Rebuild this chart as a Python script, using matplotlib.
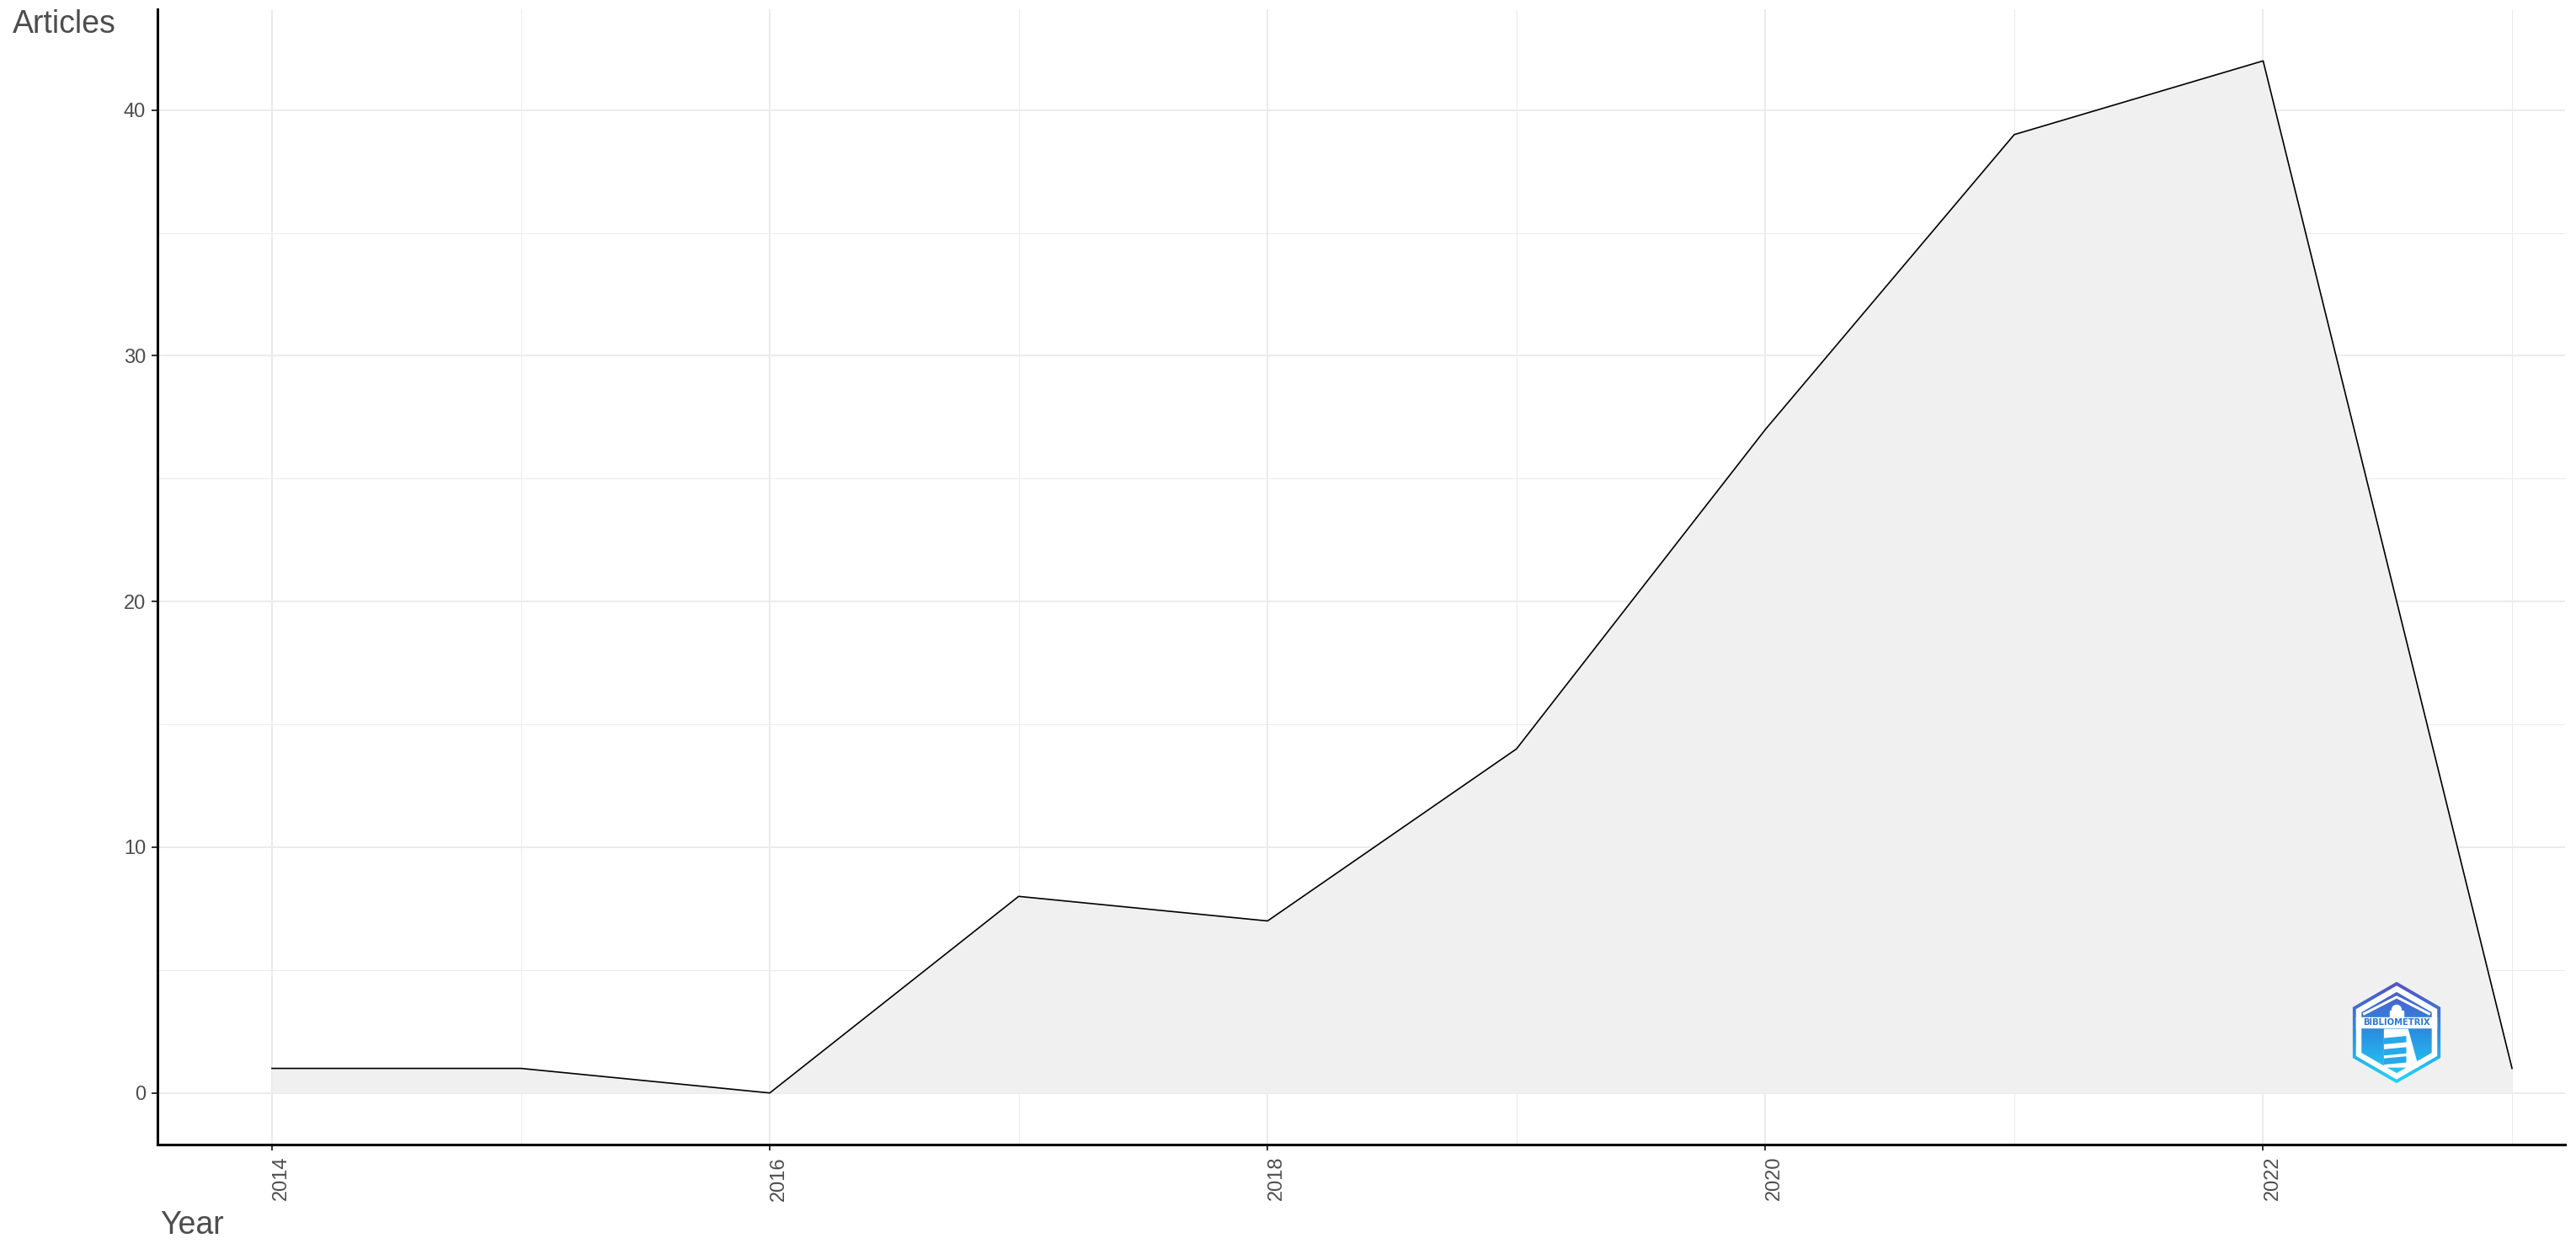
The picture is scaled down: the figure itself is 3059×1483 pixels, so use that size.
import numpy as np
import matplotlib
matplotlib.use("Agg")
import matplotlib.pyplot as plt
from matplotlib.patches import RegularPolygon, Rectangle, Circle, Polygon
from matplotlib.colors import LinearSegmentedColormap

plt.rcParams["font.family"] = ["Liberation Sans", "DejaVu Sans"]

# data
years = [2014, 2015, 2016, 2017, 2018, 2019, 2020, 2021, 2022, 2023]
articles = [1, 1, 0, 8, 7, 14, 27, 39, 42, 1]
x_major = [2014, 2016, 2018, 2020, 2022]
x_minor = [2015, 2017, 2019, 2021, 2023]
y_major = [0, 10, 20, 30, 40]
y_minor = [5, 15, 25, 35]

W, H = 3059, 1483
fig = plt.figure(figsize=(W / 100, H / 100), dpi=100)
fig.patch.set_facecolor("white")

# axes box in pixels: left 187, right 3046, top 11, bottom 1359
ax = fig.add_axes([187 / W, (H - 1359) / H, (3046 - 187) / W, (1359 - 11) / H])
ax.fill_between(years, articles, 0, color="#F0F0F0", lw=0, zorder=2)
ax.plot(years, articles, color="black", lw=1.2, zorder=3)

ax.set_xlim(2013.54, 2023.213)
ax.set_ylim(-2.1, 44.1)
ax.set_xticks(x_major)
ax.set_xticks(x_minor, minor=True)
ax.set_yticks(y_major)
ax.set_yticks(y_minor, minor=True)

ax.grid(which="major", color="#EBEBEB", lw=1.4, zorder=0)
ax.grid(which="minor", color="#EBEBEB", lw=0.7, zorder=0)
ax.set_axisbelow(True)

for s in ["top", "right"]:
    ax.spines[s].set_visible(False)
for s in ["left", "bottom"]:
    ax.spines[s].set_linewidth(2.2)
    ax.spines[s].set_color("black")

ax.tick_params(which="major", length=5, width=1.4, color="#333333",
               labelsize=17, labelcolor="#4D4D4D", pad=5)
ax.tick_params(which="minor", length=0)
ax.set_xticklabels([str(y) for y in x_major], rotation=90)
for lab in ax.get_xticklabels():
    lab.set_rotation_mode("anchor")
    lab.set_ha("right")
    lab.set_va("top")

fig.text(15 / W, 1 - 39 / H, "Articles", fontsize=27, color="#4D4D4D", va="baseline")
fig.text(190 / W, 1 - 1465 / H, "Year", fontsize=27, color="#4D4D4D", va="baseline")

# bibliometrix logo (hexagon badge)
cx, cy, size = 2846, 1226, 124
lax = fig.add_axes([(cx - size / 2) / W, (H - cy - size / 2) / H, size / W, size / H])
lax.set_xlim(-1.03, 1.03)
lax.set_ylim(-1.03, 1.03)
lax.set_aspect("equal")
lax.axis("off")

cmap = LinearSegmentedColormap.from_list("bx", ["#5650c2", "#2b8fe1", "#20d6f8"])
grad = np.linspace(0, 1, 256).reshape(-1, 1)

outer = RegularPolygon((0, 0), 6, radius=1.0, orientation=0, facecolor="none", edgecolor="none")
lax.add_patch(outer)
im = lax.imshow(grad, cmap=cmap, extent=[-1, 1, -1, 1], aspect="auto", origin="upper", zorder=1)
im.set_clip_path(outer)
lax.add_patch(RegularPolygon((0, 0), 6, radius=0.925, orientation=0, facecolor="white",
                             edgecolor="none", zorder=2))
inner = RegularPolygon((0, 0), 6, radius=0.8, orientation=0, facecolor="none", edgecolor="none")
lax.add_patch(inner)
im2 = lax.imshow(grad, cmap=cmap, extent=[-1, 1, -1, 1], aspect="auto", origin="upper", zorder=3)
im2.set_clip_path(inner)

# roof chevron
lax.plot([-0.66, 0, 0.66], [0.36, 0.7, 0.36], color="white", lw=2.2, zorder=4,
         solid_capstyle="butt")
# lighthouse top
lax.add_patch(Circle((0, 0.45), 0.09, color="white", zorder=4))
lax.add_patch(Rectangle((-0.14, 0.3), 0.28, 0.14, color="white", zorder=4))
# text band
band = Rectangle((-0.85, 0.1), 1.7, 0.2, color="white", zorder=4)
lax.add_patch(band)
band.set_clip_path(RegularPolygon((0, 0), 6, radius=0.925, orientation=0,
                                  transform=lax.transData))
lax.text(0, 0.2, "BIBLIOMETRIX", ha="center", va="center", fontsize=7.2,
         fontweight="bold", color="#2a78d8", zorder=5, family="DejaVu Sans")
# lighthouse body
lax.add_patch(Polygon([[-0.24, 0.06], [0.22, 0.06], [0.42, -0.68], [-0.24, -0.68]],
                      closed=True, color="white", zorder=4))
for yy in [-0.12, -0.34, -0.52]:
    lax.add_patch(Polygon([[-0.24, yy], [0.18, yy + 0.04], [0.18, yy - 0.06], [-0.24, yy - 0.1]],
                          closed=True, color="#27a8ea", zorder=5))

fig.savefig("out.png", dpi=100)
